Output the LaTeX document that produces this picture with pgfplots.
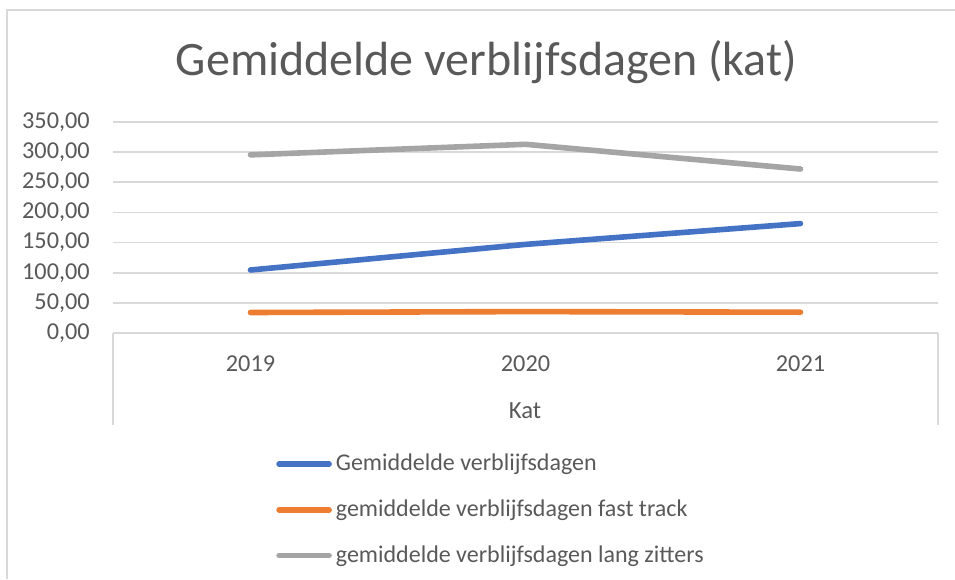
\documentclass[border=0pt]{standalone}
\usepackage{fontspec}
\setmainfont{Carlito}
\usepackage{pgfplots}
\pgfplotsset{compat=1.18}
\definecolor{cblue}{HTML}{4472C4}
\definecolor{corange}{HTML}{ED7D31}
\definecolor{cgray}{HTML}{A5A5A5}
\definecolor{ctext}{HTML}{595959}
\definecolor{cgrid}{HTML}{D9D9D9}
\begin{document}
\begin{tikzpicture}
\path[use as bounding box] (0,0) rectangle (716.25pt,434.25pt);
% outer chart border (partly cropped)
\draw[cgrid, line width=1.2pt] (7*0.75pt,0) -- (7*0.75pt,{(579-10)*0.75pt}) -- (716.25pt,{(579-10)*0.75pt});
% title
\node[anchor=base, text=ctext, font=\fontsize{36}{43}\selectfont, inner sep=0pt] at (486.5*0.75pt,{(579-76)*0.75pt}) {Gemiddelde verblijfsdagen (kat)};
\begin{axis}[
  at={(84.75pt,184.5pt)}, anchor=south west,
  scale only axis,
  width=618.75pt, height=158.25pt,
  xmin=-0.5, xmax=2.5,
  ymin=0, ymax=350,
  ytick={0,50,...,350},
  xtick={0,1,2},
  xticklabels={2019,2020,2021},
  axis lines*=left,
  x axis line style={cgrid, line width=1.2pt, -},
  y axis line style={draw=none},
  major tick length=0pt,
  ymajorgrids,
  grid style={cgrid, line width=1.2pt},
  font=\fontsize{18.2}{22}\selectfont,
  tick label style={text=ctext},
  every x tick label/.append style={anchor=center, yshift=-31*0.75pt},
  yticklabel style={anchor=east, inner sep=0pt, xshift=-23*0.75pt,
    /pgf/number format/fixed, /pgf/number format/fixed zerofill,
    /pgf/number format/precision=2, /pgf/number format/use comma,
    /pgf/number format/1000 sep={}},
  /pgf/number format/assume math mode=true,
  clip=false,
  legend style={draw=none, fill=none, inner sep=0pt, at={(rel axis cs:0.1976,-0.604)}, anchor=north west,
    font=\fontsize{18}{22}\selectfont, text=ctext,
    nodes={inner sep=0pt, text height=0.75em, text depth=0.25em},
    row sep=24.35pt,
    /tikz/every odd column/.append style={column sep=3pt}},
  legend cell align=left,
  legend image code/.code={\draw[#1, line cap=round] (2.25pt,0.25em) -- (39.75pt,0.25em);},
]
\addplot[cblue, line width=4.2pt, line cap=round, line join=round] coordinates {(0,104.5) (1,147) (2,181.5)};
\addlegendentry{Gemiddelde verblijfsdagen}
\addplot[corange, line width=4.2pt, line cap=round, line join=round] coordinates {(0,34) (1,35.5) (2,34.5)};
\addlegendentry{gemiddelde verblijfsdagen fast track}
\addplot[cgray, line width=4.2pt, line cap=round, line join=round] coordinates {(0,295.5) (1,313) (2,272)};
\addlegendentry{gemiddelde verblijfsdagen lang zitters}
\draw[cgrid, line width=1.2pt] (rel axis cs:0,0) -- ++(0pt,-92*0.75pt);
\draw[cgrid, line width=1.2pt] (rel axis cs:1,0) -- ++(0pt,-92*0.75pt);
\end{axis}
\node[anchor=base, text=ctext, font=\fontsize{18.5}{22}\selectfont, inner sep=0pt] at (525*0.75pt,{(579-418)*0.75pt}) {Kat};
\end{tikzpicture}
\end{document}
